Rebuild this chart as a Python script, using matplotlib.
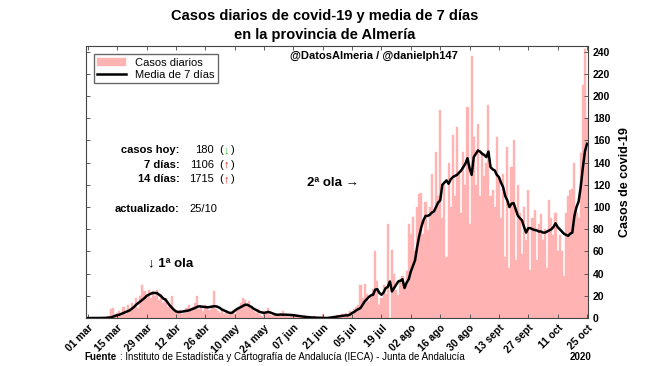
import matplotlib.pyplot as plt
import matplotlib.transforms as mtransforms
import numpy as np

plt.rcParams['font.family'] = ['Liberation Sans', 'DejaVu Sans']

# Casos diarios (desde 01 mar 2020)
casos = [
    0, 0, 0, 0, 0, 0, 0, 1, 0, 1,
    2, 8, 9, 3, 5, 6, 2, 10, 4, 12,
    8, 14, 10, 18, 9, 20, 30, 24, 20, 25,
    18, 24, 20, 25, 16, 22, 14, 18, 10, 12,
    20, 8, 6, 5, 7, 4, 5, 9, 12, 6,
    10, 14, 20, 8, 10, 6, 12, 9, 7, 11,
    24, 8, 6, 5, 8, 4, 6, 3, 5, 7,
    4, 8, 10, 14, 18, 16, 12, 15, 10, 6,
    5, 8, 3, 2, 6, 4, 9, 3, 2, 5,
    3, 2, 4, 6, 2, 3, 1, 4, 2, 3,
    1, 2, 0, 3, 1, 0, 1, 0, 2, 0,
    0, 0, 4, 0, 0, 1, 0, 2, 1, 3,
    2, 4, 1, 5, 3, 6, 4, 8, 10, 12,
    30, 18, 31, 22, 15, 20, 26, 60, 33, 12,
    18, 30, 22, 85, 0, 61, 40, 25, 21, 35,
    38, 30, 42, 85, 76, 91, 60, 100, 112, 113,
    76, 105, 79, 100, 130, 95, 150, 110, 187, 90,
    120, 55, 140, 100, 165, 110, 172, 130, 95, 150,
    120, 190, 85, 236, 163, 120, 175, 110, 150, 128,
    140, 192, 110, 115, 100, 163, 125, 90, 130, 55,
    154, 45, 136, 160, 52, 120, 95, 58, 100, 70,
    115, 43, 90, 97, 52, 85, 94, 70, 80, 45,
    106, 90, 75, 95, 60, 75, 60, 38, 95, 110,
    115, 116, 140, 95, 90, 149, 210, 242, 180,
]

# Media de 7 dias
media7 = [
    0, 0, 0, 0, 0, 0, 0, 0, 0.1, 0.3,
    0.4, 0.6, 1.2, 2, 2.6, 3, 3.8, 4.5, 5.5, 6.2,
    7, 8.5, 10, 12, 13.5, 15, 16.6, 18, 20, 21,
    22, 22.6, 22.6, 22.4, 21, 19.5, 17.5, 16.6, 14, 11.5,
    9.5, 7.5, 6, 5.5, 5.5, 5.8, 6, 6.3, 6.8, 7.5,
    8.2, 9, 10, 10.6, 10.4, 10.2, 10, 9.7, 9.9, 10.3,
    10.6, 10.6, 10, 9, 7.6, 6.8, 6, 5, 4.6, 5,
    6.6, 8, 9, 10, 11, 12, 12, 11, 10, 8.5,
    7.5, 6.5, 5.5, 5, 4.6, 5, 5.5, 5, 4.2, 3.5,
    3, 3, 3.2, 3, 3.1, 3, 3, 2.8, 2.6, 2.3,
    2, 1.6, 1.5, 1.2, 1, 0.8, 0.6, 0.5, 0.4, 0.4,
    0.3, 0.2, 0.2, 0.1, 0, 0.2, 0.5, 0.8, 1.2, 1.5,
    1.8, 2, 2.2, 2.4, 2.4, 3.2, 4.6, 5.5, 7, 8,
    9, 12, 15, 17, 19, 20.5, 21, 25.6, 26, 22.6,
    21, 23, 27, 28, 33, 24, 27, 30, 33, 33.5,
    35, 27, 32, 35, 42, 47, 52, 64, 74, 82,
    88, 92, 92, 93, 95, 96, 100, 104, 106, 120,
    122, 124, 121, 125, 127, 128, 129, 131, 133, 136,
    139, 144, 135, 129, 145, 148, 151, 150, 148, 147,
    145, 150, 136, 134, 133, 129, 127, 122, 118, 110,
    106, 100, 103, 103.6, 98, 92.4, 90, 88, 82, 77,
    81, 81, 80, 79.4, 79, 78, 78, 77, 77, 78,
    79, 80, 82, 85.4, 82, 80, 78, 76, 75, 74,
    76, 77, 92, 100, 105, 118, 135, 150, 157,
]

tick_labels = ['01 mar', '15 mar', '29 mar', '12 abr', '26 abr', '10 may',
               '24 may', '07 jun', '21 jun', '05 jul', '19 jul', '02 ago',
               '16 ago', '30 ago', '13 sept', '27 sept', '11 oct', '25 oct']

dias = np.arange(len(casos))

fig = plt.figure(figsize=(6.5, 3.66), dpi=100)
ax = fig.add_axes([0.132, 0.131, 0.773, 0.743])

barras = ax.bar(dias, casos, width=1.0, color='#ffb3b3', edgecolor='#ffb3b3',
                linewidth=0.3, label='Casos diarios')
linea, = ax.plot(dias, media7, color='black', linewidth=1.8, label='Media de 7 días')

ax.set_xlim(-1, 238.6)
ax.set_ylim(0, 245)
ax.set_xticks(np.arange(0, 239, 14))
ax.set_xticklabels(tick_labels, rotation=45, ha='right', rotation_mode='anchor',
                   fontsize=7.5, fontweight='bold')
# desplazar un poco las etiquetas hacia la derecha
desp = mtransforms.ScaledTranslation(4 / 72, 0, fig.dpi_scale_trans)
for lab in ax.get_xticklabels():
    lab.set_transform(lab.get_transform() + desp)
ax.set_yticks(np.arange(0, 241, 20))
ax.yaxis.tick_right()
ax.yaxis.set_label_position('right')
ax.tick_params(axis='y', labelsize=7.5)
for lab in ax.get_yticklabels():
    lab.set_fontweight('bold')
ax.tick_params(direction='in', length=3, width=0.6, top=True, left=True,
               right=True, bottom=True, colors='#444444', labelcolor='black')
ax.set_ylabel('Casos de covid-19', fontsize=9, fontweight='bold', labelpad=6)
for s in ax.spines.values():
    s.set_linewidth(0.8)
    s.set_color('#444444')

ax.legend([barras, linea], ['Casos diarios', 'Media de 7 días'], loc='upper left',
          fontsize=8, frameon=True, fancybox=False, edgecolor='#444444',
          handlelength=2.6, borderpad=0.3, labelspacing=0.2,
          bbox_to_anchor=(0.005, 0.99))

fig.text(0.5, 0.955, 'Casos diarios de covid-19 y media de 7 días',
         ha='center', va='center', fontsize=10.5, fontweight='bold')
fig.text(0.5, 0.905, 'en la provincia de Almería',
         ha='center', va='center', fontsize=10.5, fontweight='bold')

ax.text(0.574, 0.965, '@DatosAlmeria / @danielph147', transform=ax.transAxes,
        ha='center', va='center', fontsize=8, fontweight='bold')

filas = [('casos hoy:', '180', '↓', '#33bb33', 0.618),
         ('7 días:', '1106', '↑', '#dd2222', 0.563),
         ('14 días:', '1715', '↑', '#dd2222', 0.511)]
for etiqueta, valor, flecha, col, yy in filas:
    ax.text(0.187, yy, etiqueta, transform=ax.transAxes, ha='right', va='center',
            fontsize=8, fontweight='bold')
    ax.text(0.255, yy, valor, transform=ax.transAxes, ha='right', va='center',
            fontsize=8)
    ax.text(0.265, yy, '(', transform=ax.transAxes, ha='left', va='center', fontsize=8)
    ax.text(0.274, yy, flecha, transform=ax.transAxes, ha='left', va='center',
            fontsize=8, color=col)
    ax.text(0.288, yy, ')', transform=ax.transAxes, ha='left', va='center', fontsize=8)

ax.text(0.187, 0.40, 'actualizado:', transform=ax.transAxes, ha='right', va='center',
        fontsize=8, fontweight='bold')
ax.text(0.207, 0.40, '25/10', transform=ax.transAxes, ha='left', va='center', fontsize=8)

ax.text(0.123, 0.202, '↓ 1ª ola', transform=ax.transAxes, ha='left', va='center',
        fontsize=9.5, fontweight='bold')
ax.text(0.44, 0.496, '2ª ola →', transform=ax.transAxes, ha='left', va='center',
        fontsize=9.5, fontweight='bold')

fig.text(0.13, 0.025, 'Fuente', ha='left', va='center', fontsize=7, fontweight='bold')
fig.text(0.185, 0.025, ': Instituto de Estadística y Cartografía de Andalucía (IECA) - Junta de Andalucía',
         ha='left', va='center', fontsize=7)
fig.text(0.877, 0.025, '2020', ha='left', va='center', fontsize=7, fontweight='bold')

fig.savefig('out.png', dpi=100)
